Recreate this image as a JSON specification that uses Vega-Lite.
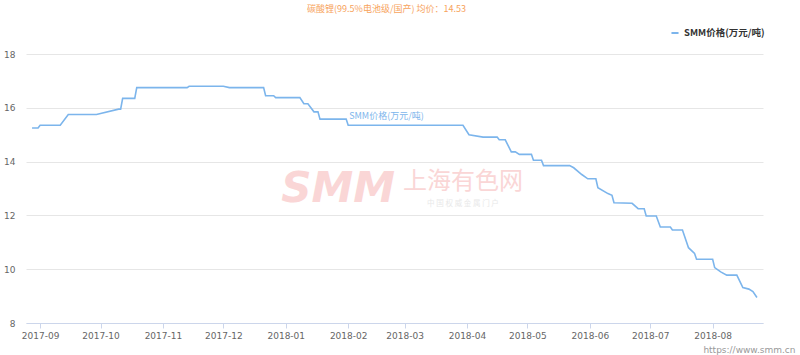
{
  "$schema": "https://vega.github.io/schema/vega-lite/v6.json",
  "width": 737,
  "height": 269,
  "autosize": {"type": "none"},
  "padding": {"left": 26, "top": 54, "right": 37, "bottom": 32},
  "background": "#ffffff",
  "title": {
    "text": "碳酸锂(99.5%电池级/国产) 均价：14.53",
    "font": "Noto Sans CJK SC",
    "fontSize": 9,
    "fontWeight": "normal",
    "color": "#f7a35c",
    "anchor": "middle",
    "offset": 14,
    "dx": -8
  },
  "config": {
    "view": {"stroke": null},
    "font": "DejaVu Sans"
  },
  "data": {
    "values": [
      {"date": "2017-08-28", "price": 15.25, "series": "SMM价格(万元/吨)"},
      {"date": "2017-08-31", "price": 15.25, "series": "SMM价格(万元/吨)"},
      {"date": "2017-09-01", "price": 15.35, "series": "SMM价格(万元/吨)"},
      {"date": "2017-09-11", "price": 15.35, "series": "SMM价格(万元/吨)"},
      {"date": "2017-09-15", "price": 15.75, "series": "SMM价格(万元/吨)"},
      {"date": "2017-09-29", "price": 15.75, "series": "SMM价格(万元/吨)"},
      {"date": "2017-10-10", "price": 15.95, "series": "SMM价格(万元/吨)"},
      {"date": "2017-10-11", "price": 15.95, "series": "SMM价格(万元/吨)"},
      {"date": "2017-10-12", "price": 16.35, "series": "SMM价格(万元/吨)"},
      {"date": "2017-10-18", "price": 16.35, "series": "SMM价格(万元/吨)"},
      {"date": "2017-10-19", "price": 16.75, "series": "SMM价格(万元/吨)"},
      {"date": "2017-11-13", "price": 16.75, "series": "SMM价格(万元/吨)"},
      {"date": "2017-11-14", "price": 16.8, "series": "SMM价格(万元/吨)"},
      {"date": "2017-12-01", "price": 16.8, "series": "SMM价格(万元/吨)"},
      {"date": "2017-12-04", "price": 16.75, "series": "SMM价格(万元/吨)"},
      {"date": "2017-12-21", "price": 16.75, "series": "SMM价格(万元/吨)"},
      {"date": "2017-12-22", "price": 16.45, "series": "SMM价格(万元/吨)"},
      {"date": "2017-12-26", "price": 16.45, "series": "SMM价格(万元/吨)"},
      {"date": "2017-12-27", "price": 16.38, "series": "SMM价格(万元/吨)"},
      {"date": "2018-01-08", "price": 16.38, "series": "SMM价格(万元/吨)"},
      {"date": "2018-01-10", "price": 16.15, "series": "SMM价格(万元/吨)"},
      {"date": "2018-01-12", "price": 16.15, "series": "SMM价格(万元/吨)"},
      {"date": "2018-01-15", "price": 15.85, "series": "SMM价格(万元/吨)"},
      {"date": "2018-01-17", "price": 15.85, "series": "SMM价格(万元/吨)"},
      {"date": "2018-01-18", "price": 15.58, "series": "SMM价格(万元/吨)"},
      {"date": "2018-01-31", "price": 15.58, "series": "SMM价格(万元/吨)"},
      {"date": "2018-02-01", "price": 15.35, "series": "SMM价格(万元/吨)"},
      {"date": "2018-03-30", "price": 15.35, "series": "SMM价格(万元/吨)"},
      {"date": "2018-04-02", "price": 15.0, "series": "SMM价格(万元/吨)"},
      {"date": "2018-04-09", "price": 14.91, "series": "SMM价格(万元/吨)"},
      {"date": "2018-04-16", "price": 14.91, "series": "SMM价格(万元/吨)"},
      {"date": "2018-04-17", "price": 14.81, "series": "SMM价格(万元/吨)"},
      {"date": "2018-04-20", "price": 14.81, "series": "SMM价格(万元/吨)"},
      {"date": "2018-04-23", "price": 14.36, "series": "SMM价格(万元/吨)"},
      {"date": "2018-04-25", "price": 14.36, "series": "SMM价格(万元/吨)"},
      {"date": "2018-04-27", "price": 14.27, "series": "SMM价格(万元/吨)"},
      {"date": "2018-05-03", "price": 14.27, "series": "SMM价格(万元/吨)"},
      {"date": "2018-05-04", "price": 14.05, "series": "SMM价格(万元/吨)"},
      {"date": "2018-05-08", "price": 14.05, "series": "SMM价格(万元/吨)"},
      {"date": "2018-05-09", "price": 13.85, "series": "SMM价格(万元/吨)"},
      {"date": "2018-05-22", "price": 13.85, "series": "SMM价格(万元/吨)"},
      {"date": "2018-05-24", "price": 13.77, "series": "SMM价格(万元/吨)"},
      {"date": "2018-05-28", "price": 13.52, "series": "SMM价格(万元/吨)"},
      {"date": "2018-05-31", "price": 13.36, "series": "SMM价格(万元/吨)"},
      {"date": "2018-06-04", "price": 13.36, "series": "SMM价格(万元/吨)"},
      {"date": "2018-06-05", "price": 13.03, "series": "SMM价格(万元/吨)"},
      {"date": "2018-06-10", "price": 12.81, "series": "SMM价格(万元/吨)"},
      {"date": "2018-06-12", "price": 12.75, "series": "SMM价格(万元/吨)"},
      {"date": "2018-06-13", "price": 12.47, "series": "SMM价格(万元/吨)"},
      {"date": "2018-06-22", "price": 12.45, "series": "SMM价格(万元/吨)"},
      {"date": "2018-06-25", "price": 12.25, "series": "SMM价格(万元/吨)"},
      {"date": "2018-06-28", "price": 12.25, "series": "SMM价格(万元/吨)"},
      {"date": "2018-06-29", "price": 11.98, "series": "SMM价格(万元/吨)"},
      {"date": "2018-07-04", "price": 11.98, "series": "SMM价格(万元/吨)"},
      {"date": "2018-07-06", "price": 11.57, "series": "SMM价格(万元/吨)"},
      {"date": "2018-07-11", "price": 11.57, "series": "SMM价格(万元/吨)"},
      {"date": "2018-07-12", "price": 11.46, "series": "SMM价格(万元/吨)"},
      {"date": "2018-07-17", "price": 11.46, "series": "SMM价格(万元/吨)"},
      {"date": "2018-07-20", "price": 10.8, "series": "SMM价格(万元/吨)"},
      {"date": "2018-07-23", "price": 10.59, "series": "SMM价格(万元/吨)"},
      {"date": "2018-07-24", "price": 10.37, "series": "SMM价格(万元/吨)"},
      {"date": "2018-08-01", "price": 10.37, "series": "SMM价格(万元/吨)"},
      {"date": "2018-08-02", "price": 10.06, "series": "SMM价格(万元/吨)"},
      {"date": "2018-08-05", "price": 9.9, "series": "SMM价格(万元/吨)"},
      {"date": "2018-08-08", "price": 9.78, "series": "SMM价格(万元/吨)"},
      {"date": "2018-08-13", "price": 9.78, "series": "SMM价格(万元/吨)"},
      {"date": "2018-08-16", "price": 9.32, "series": "SMM价格(万元/吨)"},
      {"date": "2018-08-19", "price": 9.26, "series": "SMM价格(万元/吨)"},
      {"date": "2018-08-21", "price": 9.17, "series": "SMM价格(万元/吨)"},
      {"date": "2018-08-23", "price": 8.95, "series": "SMM价格(万元/吨)"}
    ]
  },
  "encoding": {
    "x": {
      "field": "date",
      "type": "temporal",
      "scale": {
        "type": "utc",
        "domain": [
          {"year": 2017, "month": 8, "date": 25, "utc": true},
          {"year": 2018, "month": 8, "date": 26, "utc": true}
        ]
      },
      "axis": {
        "title": "https://www.smm.cn",
        "titleFont": "DejaVu Sans",
        "titleFontSize": 9,
        "titleFontWeight": "normal",
        "titleColor": "#999999",
        "titleAnchor": "end",
        "titleAlign": "right",
        "titleX": 769,
        "titleY": 29,
        "titleBaseline": "alphabetic",
        "format": "%Y-%m",
        "tickCount": {"interval": "month", "step": 1},
        "grid": false,
        "domainColor": "#ccd6eb",
        "tickColor": "#ccd6eb",
        "tickSize": 5,
        "labelPadding": 3,
        "labelFont": "DejaVu Sans",
        "labelFontSize": 9,
        "labelColor": "#666666",
        "labelFlush": false,
        "labelOverlap": false
      }
    },
    "y": {
      "field": "price",
      "type": "quantitative",
      "scale": {"domain": [8, 18], "nice": false, "zero": false},
      "axis": {
        "title": null,
        "values": [8, 10, 12, 14, 16, 18],
        "domain": false,
        "ticks": false,
        "grid": true,
        "gridColor": "#e6e6e6",
        "labelPadding": 11,
        "labelFont": "DejaVu Sans",
        "labelFontSize": 9,
        "labelColor": "#666666"
      }
    }
  },
  "layer": [
    {
      "transform": [{"filter": {"field": "price", "equal": 8.95}}],
      "mark": {
        "type": "text",
        "text": "SMM",
        "font": "DejaVu Sans",
        "fontSize": 42,
        "fontWeight": "bold",
        "fontStyle": "italic",
        "color": "#fad6d6",
        "align": "center",
        "baseline": "middle"
      },
      "encoding": {
        "x": {"datum": {"year": 2018, "month": 1, "date": 27, "utc": true}, "type": "temporal"},
        "y": {"datum": 13.0, "type": "quantitative"}
      }
    },
    {
      "transform": [{"filter": {"field": "price", "equal": 8.95}}],
      "mark": {
        "type": "text",
        "text": "上海有色网",
        "font": "Noto Sans CJK SC",
        "fontSize": 24,
        "color": "#fad6d6",
        "align": "center",
        "baseline": "middle"
      },
      "encoding": {
        "x": {"datum": {"year": 2018, "month": 3, "date": 30, "utc": true}, "type": "temporal"},
        "y": {"datum": 13.25, "type": "quantitative"}
      }
    },
    {
      "transform": [{"filter": {"field": "price", "equal": 8.95}}],
      "mark": {
        "type": "text",
        "text": "中 国 权 威 金 属 门 户",
        "font": "Noto Sans CJK SC",
        "fontSize": 7.5,
        "color": "#e8e8e8",
        "align": "center",
        "baseline": "middle"
      },
      "encoding": {
        "x": {"datum": {"year": 2018, "month": 3, "date": 30, "utc": true}, "type": "temporal"},
        "y": {"datum": 12.42, "type": "quantitative"}
      }
    },
    {
      "mark": {"type": "line", "strokeWidth": 1.6, "interpolate": "linear"},
      "encoding": {
        "color": {
          "field": "series",
          "type": "nominal",
          "scale": {"range": ["#7cb5ec"]},
          "legend": {
            "title": null,
            "orient": "none",
            "legendX": 644,
            "legendY": -26,
            "symbolType": "stroke",
            "symbolSize": 50,
            "symbolStrokeWidth": 2,
            "labelFont": "Noto Sans CJK SC",
            "labelFontSize": 9.5,
            "labelFontWeight": "bold",
            "labelColor": "#333333",
            "labelOffset": 4
          }
        }
      }
    },
    {
      "transform": [{"filter": {"field": "price", "equal": 8.95}}],
      "mark": {
        "type": "text",
        "text": "SMM价格(万元/吨)",
        "font": "Noto Sans CJK SC",
        "fontSize": 9,
        "color": "#7cb5ec",
        "align": "center",
        "baseline": "middle"
      },
      "encoding": {
        "x": {"datum": {"year": 2018, "month": 2, "date": 20, "utc": true}, "type": "temporal"},
        "y": {"datum": 15.7, "type": "quantitative"}
      }
    }
  ]
}
